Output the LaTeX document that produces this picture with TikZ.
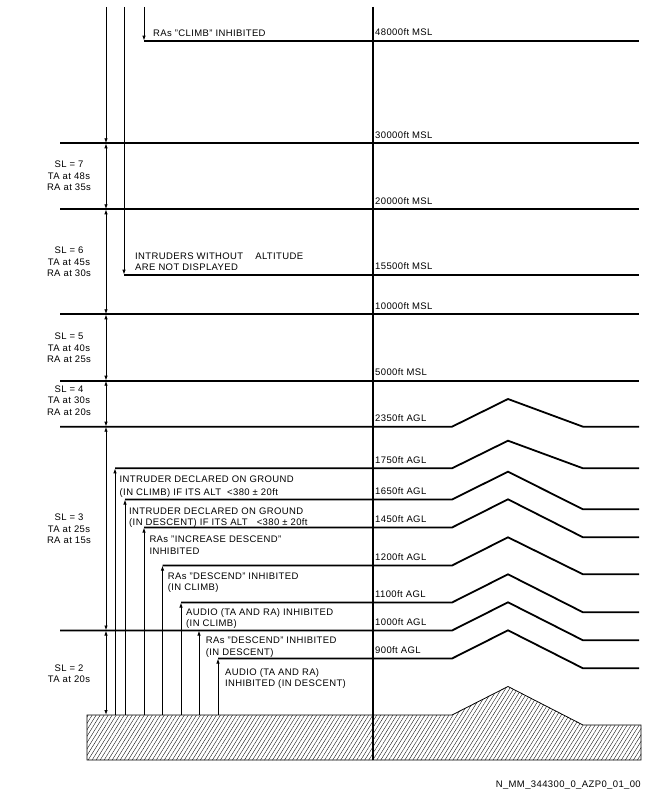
\documentclass[tikz,border=0pt]{standalone}
\usepackage{fontspec}
\setmainfont{Liberation Sans}[LetterSpace=4]
\usetikzlibrary{arrows.meta,patterns.meta}
\tikzset{
  alt/.style={line width=1.8pt},
  thin1/.style={line width=0.8pt},
  ar/.style={line width=0.8pt,-{Latex[length=5pt,width=3.4pt]}},
  dar/.style={line width=0.8pt,{Latex[length=5pt,width=3.4pt]}-{Latex[length=5pt,width=3.4pt]}},
  ftlbl/.style={font=\fontsize{9.5}{11.7}\selectfont,inner sep=0pt,anchor=base west},
  note/.style={font=\fontsize{9.5}{11.7}\selectfont,inner sep=0pt,anchor=base west,align=left},
  slbl/.style={font=\fontsize{9.5}{11.5}\selectfont,inner sep=0pt,align=center}
}

\begin{document}
\begin{tikzpicture}[x=1pt,y=-1pt]
\useasboundingbox (0,0) rectangle (648,792);
\coordinate (top) at (0,7);
\coordinate (grd) at (0,715);
% terrain
\draw[thin1,pattern={Lines[angle=58,distance=3.4pt,line width=0.35pt]}]
  (87,715) -- (452,715) -- (508,686.5) -- (583,725) -- (641,725) -- (641,760) -- (87,760) -- cycle;
% reference vertical
\draw[line width=1.2pt] (373,7) coordinate (vtop) -- (373,760) coordinate (vbot);
% MSL levels
\draw[alt] (144,40.7) coordinate (a48) -- (639,40.7);
\draw[alt] (60,143.3) coordinate (a30) -- (639,143.3);
\draw[alt] (60,209.3) coordinate (a20) -- (639,209.3);
\draw[alt] (124,274.7) coordinate (a155) -- (639,274.7);
\draw[alt] (60,314.3) coordinate (a10) -- (639,314.3);
\draw[alt] (60,380.7) coordinate (a5) -- (639,380.7);
% AGL levels, following the hill
\draw[alt] (60,426.7) coordinate (a2350) -- (452,426.7) -- (508,399) -- (583,426.7) -- (639,426.7);
\draw[alt] (115,468.3) coordinate (a1750) -- (452,468.3) -- (508,440.7) -- (583,468.3) -- (639,468.3);
\draw[alt] (125,499.5) coordinate (a1650) -- (452,499.5) -- (508,471.7) -- (583,509.3) -- (639,509.3);
\draw[alt] (144,527.5) coordinate (a1450) -- (452,527.5) -- (508,499.3) -- (583,537.3) -- (639,537.3);
\draw[alt] (162.5,565.5) coordinate (a1200) -- (452,565.5) -- (508,537.3) -- (583,574.3) -- (639,574.3);
\draw[alt] (181,602.5) coordinate (a1100) -- (452,602.5) -- (508,574.3) -- (583,612.3) -- (639,612.3);
\draw[alt] (60,630.5) coordinate (a1000) -- (452,630.5) -- (508,602.3) -- (583,640.3) -- (639,640.3);
\draw[alt] (218,658.5) coordinate (a900) -- (452,658.5) -- (508,630.3) -- (583,668.3) -- (639,668.3);
\coordinate (r1000) at (199,630.5);
% sensitivity level bands
\coordinate (s) at (106,0);
\draw[ar] (s |- top) -- (s |- a30);
\draw[dar] (s |- a30) -- (s |- a20);
\draw[dar] (s |- a20) -- (s |- a10);
\draw[dar] (s |- a10) -- (s |- a5);
\draw[dar] (s |- a5) -- (s |- a2350);
\draw[dar] (s |- a2350) -- (s |- a1000);
\draw[dar] (s |- a1000) -- (s |- grd);
% limits from above
\draw[ar] (a155 |- top) -- (a155);
\draw[ar] (a48 |- top) -- (a48);
% limits from the ground
\draw[ar] (a1750 |- grd) -- (a1750);
\draw[ar] (a1650 |- grd) -- (a1650);
\draw[ar] (a1450 |- grd) -- (a1450);
\draw[ar] (a1200 |- grd) -- (a1200);
\draw[ar] (a1100 |- grd) -- (a1100);
\draw[ar] (r1000 |- grd) -- (r1000);
\draw[ar] (a900 |- grd) -- (a900);
% altitude labels
\node[ftlbl] (l48) at (375,35.7) {48000ft MSL};
\node[ftlbl] (l30) at (375,138.3) {30000ft MSL};
\node[ftlbl] (l20) at (375,204.3) {20000ft MSL};
\node[ftlbl] (l155) at (375,269.7) {15500ft MSL};
\node[ftlbl] (l10) at (375,309.3) {10000ft MSL};
\node[ftlbl] (l5) at (375,375.7) {5000ft MSL};
\node[ftlbl] (l2350) at (375,421.7) {2350ft AGL};
\node[ftlbl] (l1750) at (375,463.3) {1750ft AGL};
\node[ftlbl] (l1650) at (375,494.5) {1650ft AGL};
\node[ftlbl] (l1450) at (375,522.5) {1450ft AGL};
\node[ftlbl] (l1200) at (375,560.5) {1200ft AGL};
\node[ftlbl] (l1100) at (375,597.5) {1100ft AGL};
\node[ftlbl] (l1000) at (375,625.5) {1000ft AGL};
\node[ftlbl] (l900) at (375,653.5) {900ft AGL};
% notes (base = last line)
\node[note] (n1) at (153,36.4) {RAs "CLIMB" INHIBITED};
\node[note] (n2) at (135,270.7) {INTRUDERS WITHOUT\hspace{9pt} ALTITUDE\\ARE NOT DISPLAYED};
\node[note,font=\fontsize{9.5}{12.7}\selectfont] (n3) at (119.5,495.1) {INTRUDER DECLARED ON GROUND\\(IN CLIMB) IF ITS ALT\ \ <380 ± 20ft};
\node[note] (n4) at (129,525.7) {INTRUDER DECLARED ON GROUND\\(IN DESCENT) IF ITS ALT\ \ \ <380 ± 20ft};
\node[note] (n5) at (149.3,554.1) {RAs "INCREASE DESCEND"\\INHIBITED};
\node[note] (n6) at (167.7,590.7) {RAs "DESCEND" INHIBITED\\(IN CLIMB)};
\node[note] (n7) at (186,626.7) {AUDIO (TA AND RA) INHIBITED\\(IN CLIMB)};
\node[note] (n8) at (205.7,655.1) {RAs "DESCEND" INHIBITED\\(IN DESCENT)};
\node[note] (n9) at (225,686.7) {AUDIO (TA AND RA)\\INHIBITED (IN DESCENT)};
% sensitivity levels
\node[slbl] (sl7) at (69,176) {SL = 7\\TA at 48s\\RA at 35s};
\node[slbl] (sl6) at (69,262) {SL = 6\\TA at 45s\\RA at 30s};
\node[slbl] (sl5) at (69,348) {SL = 5\\TA at 40s\\RA at 25s};
\node[slbl] (sl4) at (69,400.7) {SL = 4\\TA at 30s\\RA at 20s};
\node[slbl] (sl3) at (69,529) {SL = 3\\TA at 25s\\RA at 15s};
\node[slbl] (sl2) at (69,673.5) {SL = 2\\TA at 20s};
% drawing code
\node[font=\fontsize{9.5}{11}\selectfont,inner sep=0pt,anchor=base east] (code) at (641,787.5) {N\_MM\_344300\_0\_AZP0\_01\_00};
\end{tikzpicture}
\end{document}
